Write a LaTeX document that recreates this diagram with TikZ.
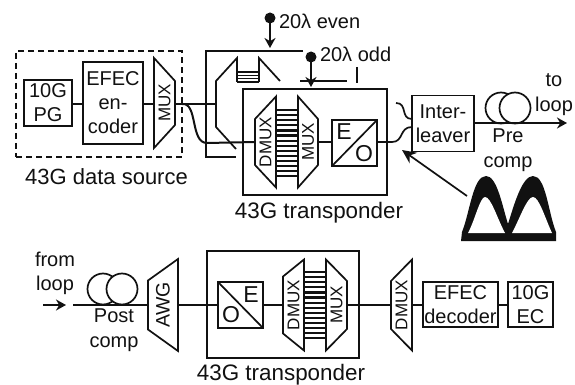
\documentclass[tikz,border=0pt]{standalone}
\usepackage{fontspec}
\setmainfont{Liberation Sans}
\usetikzlibrary{arrows.meta}
\definecolor{ink}{HTML}{111111}
\tikzset{
  ln/.style={line width=1.7pt,draw=ink,line join=miter},
  thin box/.style={draw=ink,line width=1.2pt,inner sep=0pt,outer sep=0pt},
  blk/.style={draw=ink,line width=1.7pt,inner sep=0pt,outer sep=0pt,align=center,text=ink,font=\fontsize{20}{24}\selectfont},
  lbl/.style={inner sep=0pt,outer sep=0pt,align=center,text=ink,font=\fontsize{20}{24.5}\selectfont},
  big/.style={inner sep=0pt,outer sep=0pt,text=ink,font=\fontsize{23}{24}\selectfont},
  captxt/.style={inner sep=0pt,outer sep=0pt,text=ink,font=\fontsize{22.4}{24}\selectfont},
  rot/.style={inner sep=0pt,outer sep=0pt,rotate=90,text=ink,font=\fontsize{17}{20}\selectfont},
  tip/.style={-{Stealth[length=10pt,width=11pt]},line width=1.7pt,draw=ink},
  dotc/.style={circle,fill=ink,inner sep=0pt,outer sep=0pt,minimum size=11pt},
  coil/.style={circle,draw=ink,fill=white,line width=1.7pt,inner sep=0pt,outer sep=0pt,minimum size=31pt}
}
% name, xl, xr, half height left, half height right, yc, text
\newcommand\trapz[7]{%
  \draw[ln] (#2,#6-#4)--(#3,#6-#5)--(#3,#6+#5)--(#2,#6+#4)--cycle;
  \coordinate (#1-w) at (#2,#6);
  \coordinate (#1-e) at (#3,#6);
  \node[rot] (#1) at ({(#2+#3)/2},#6) {#7};}
\begin{document}
\begin{tikzpicture}[x=1pt,y=-1pt]
\useasboundingbox (0,0) rectangle (575,385);
\fill[white] (0,0) rectangle (575,385);
% data source
\node[draw=ink,dash pattern=on 6pt off 4pt,line width=1.7pt,minimum width=166pt,minimum height=106pt,inner sep=0pt] (src) at (99,104) {};
\node[blk,minimum width=48pt,minimum height=46pt] (pg) at (48,103) {10G\\PG};
\node[blk,minimum width=60pt,minimum height=82pt] (enc) at (113,103) {EFEC\\en-\\coder};
\trapz{mxa}{154}{175}{45}{22}{103}{MUX}
\draw[ln] (pg.east |- 0,104) -- (enc.west |- 0,104);
\draw[ln] (enc.east |- 0,104) -- (154,104);
\node[captxt,font=\fontsize{22}{24}\selectfont] (srcl) at (106.5,177) {43G data source};
% upper folded transponder
\coordinate (j) at (216,104);
\coordinate (ua) at (303,51);
\coordinate (ub) at (206,51);
\coordinate (uc) at (206,157);
\coordinate (ud) at (236,157);
\draw[thin box] (ua) -- (ub) -- (uc) -- (ud);
\draw[ln] (175,104) -- (j);
\draw[ln] (237,82) -- (237,58) -- (216,81) -- (216,127) -- (236,149);
\draw[ln] (259,82) -- (259,58) -- (280,81);
\foreach \y in {72,75.3,78.6,81.9} \draw[line width=1.5pt,draw=ink] (237,\y) -- (259,\y);
% main upper transponder
\node[thin box,minimum width=144pt,minimum height=106pt] (tr1) at (315,142) {};
\trapz{dm1}{255}{276}{23}{45.5}{142}{DMUX}
\trapz{mx1}{298}{318}{45.5}{23}{142}{MUX}
\foreach \i in {0,...,13} \draw[line width=2.2pt,draw=ink] (276,110+\i*5.1) -- (298,110+\i*5.1);
\node[blk,minimum width=45pt,minimum height=46pt] (eo) at (354.5,143) {};
\draw[ln] (eo.south west) -- (eo.north east);
\node[big] (e1) at (344,132) {E};
\node[big] (o1) at (364,154) {O};
\draw[ln] (mx1-e) -- (eo.west |- mx1-e);
\draw[line width=2pt,draw=ink] (182,104) .. controls (198,102) and (190,143) .. (207,143) -- (dm1-w);
\node[captxt] (tr1l) at (319,213) {43G transponder};
% wavelengths
\node[dotc] (d1) at (270,18) {};
\coordinate (d1t) at (270,48);
\draw[tip] (d1) -- (d1t);
\node[lbl,anchor=west] (ev) at (279,21) {20λ even};
\node[dotc] (d2) at (311,57) {};
\coordinate (d2t) at (311,87);
\draw[tip] (d2) -- (d2t);
\node[lbl,anchor=west] (od) at (320,54) {20λ odd};
\coordinate (ha) at (300,81); \coordinate (hb) at (347,81);
\draw[line width=1.8pt,draw=ink] (ha) -- (hb);
\coordinate (ta) at (357,67); \coordinate (tb) at (357,83);
\draw[thin box] (ta) -- (tb);
% interleaver and fibre
\node[blk,minimum width=62pt,minimum height=56pt] (il) at (443,123.5) {Inter-\\leaver};
\draw[ln] (eo.east |- 0,142) -- (392,142) .. controls (404,142) and (399,127) .. (412,127);
\coordinate (iu) at (396,103);
\draw[ln] (iu) .. controls (408,103) and (400,119) .. (412,119);
\node[coil] (c1) at (501,108) {};
\node[coil] (c2) at (515,108) {};
\coordinate (out) at (567,123);
\draw[tip] (il.east |- out) -- (out);
\node[lbl] (to) at (554,94.5) {to\\loop};
\node[lbl] (pre) at (508,150) {Pre\\comp};
% eye
\coordinate (eyea) at (467,196);
\coordinate (eyeb) at (402,150);
\draw[-{Stealth[length=14pt,width=13pt]},line width=1.7pt,draw=ink] (eyea) -- (eyeb);
\fill[ink,line join=round] (461,241) -- (462,232) .. controls (470,212) and (473,176) .. (486,176)
   .. controls (497,176) and (502,205) .. (508,224)
   .. controls (514,205) and (522,176) .. (533,176)
   .. controls (546,176) and (548,212) .. (556,232) -- (556,241) -- cycle;
\fill[white] (468,233) .. controls (475,220) and (480,197) .. (485,197) .. controls (491,197) and (497,218) .. (505,233) -- cycle;
\fill[white] (512,233) .. controls (520,218) and (527,197) .. (533,197) .. controls (539,197) and (545,218) .. (552,233) -- cycle;
% lower chain
\node[lbl] (fr) at (55,273.5) {from\\loop};
\coordinate (ina) at (43,305); \coordinate (inb) at (66,305);
\draw[tip] (ina) -- (inb);
\node[coil] (c3) at (103,289) {};
\node[coil] (c4) at (122,289) {};
\coordinate (lin) at (73,305);
\node[lbl] (post) at (114,330) {Post\\comp};
\trapz{awg}{148}{178}{24.5}{46}{305}{}
\node[rot,font=\fontsize{19.5}{20}\selectfont] (awgl) at (163,305) {AWG};
\draw[ln] (lin) -- (awg-w);
\node[thin box,minimum width=152pt,minimum height=107pt] (tr2) at (283,304.5) {};
\node[blk,minimum width=45pt,minimum height=46pt] (oe) at (240.5,305) {};
\draw[ln] (oe.north west) -- (oe.south east);
\node[big] (e2) at (251,295) {E};
\node[big] (o2) at (231,315) {O};
\draw[ln] (awg-e) -- (oe.west);
\trapz{dm2}{283}{304}{28.5}{45.5}{305}{DMUX}
\trapz{mx2}{326}{347}{45.5}{24}{305}{MUX}
\foreach \i in {0,...,13} \draw[line width=2.2pt,draw=ink] (304,272+\i*5.1) -- (326,272+\i*5.1);
\draw[ln] (oe.east) -- (dm2-w);
\trapz{dm3}{391}{412}{24}{45.5}{305}{DMUX}
\draw[ln] (mx2-e) -- (dm3-w);
\node[blk,minimum width=75pt,minimum height=45pt] (dec) at (460.5,304.5) {EFEC\\decoder};
\node[blk,minimum width=45pt,minimum height=45pt] (ec) at (530.5,304.5) {10G\\EC};
\draw[ln] (dm3-e) -- (dec.west |- dm3-e);
\draw[ln] (dec.east |- dm3-e) -- (ec.west |- dm3-e);
\node[captxt] (tr2l) at (281,375) {43G transponder};
\end{tikzpicture}
\end{document}
